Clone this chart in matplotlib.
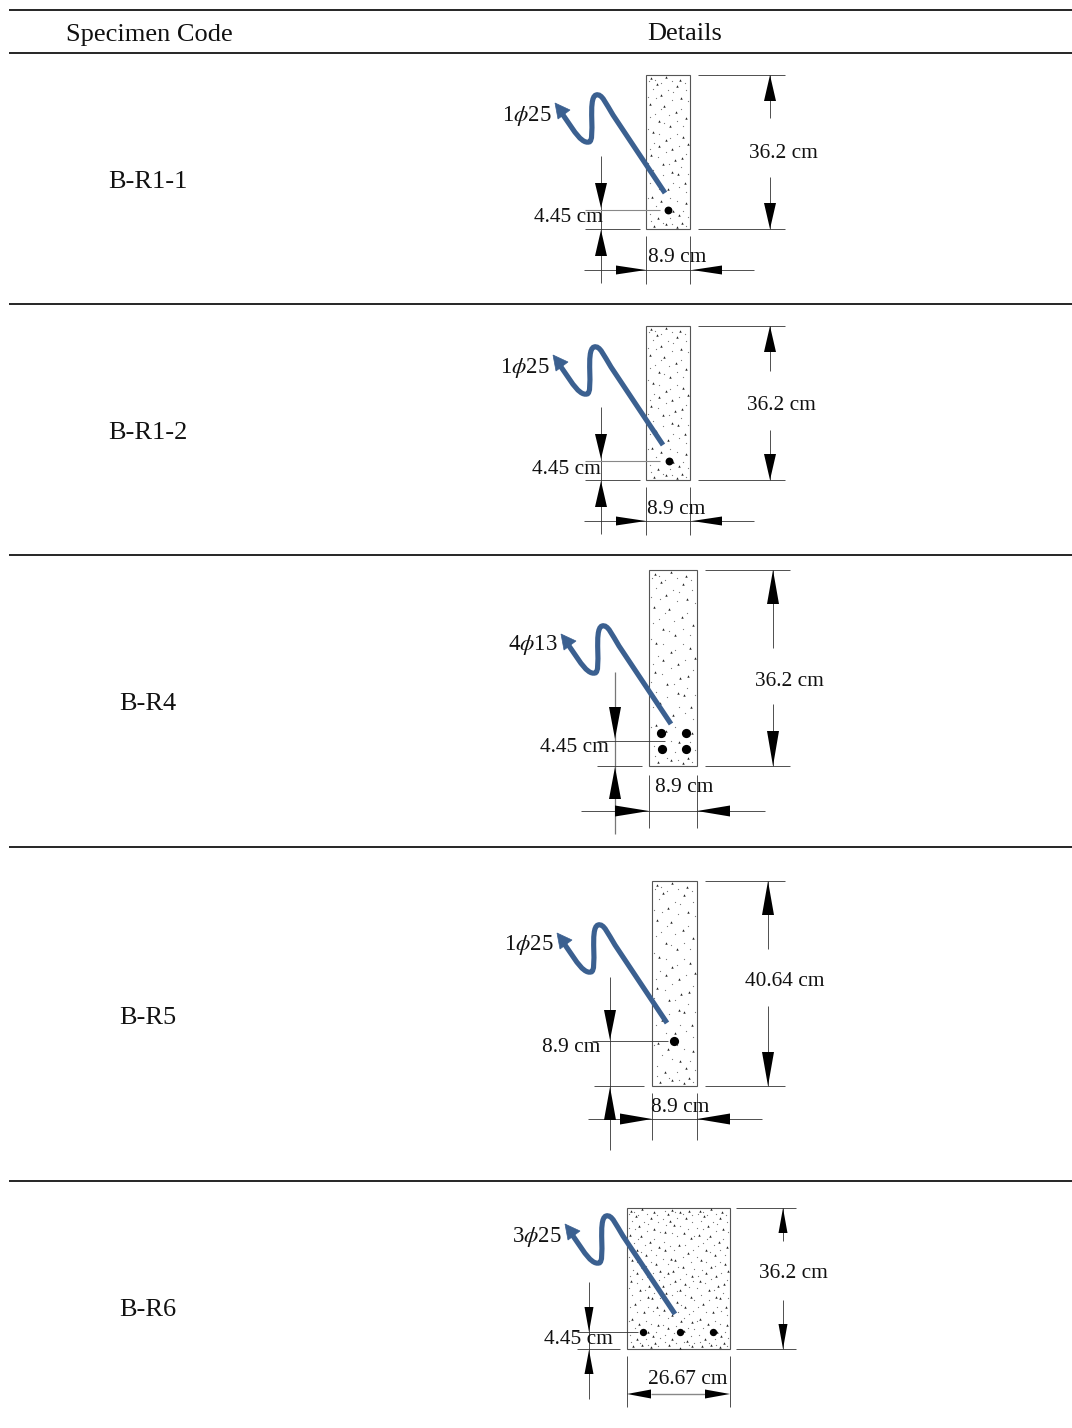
import matplotlib
matplotlib.use("Agg")
import matplotlib.pyplot as plt
from matplotlib.path import Path
from matplotlib.patches import PathPatch, Polygon, Rectangle

# table contents
headers = ["Specimen Code", "Details"]
specimens = ["B-R1-1", "B-R1-2", "B-R4", "B-R5", "B-R6"]
rebar_labels = ["1$\\phi$25", "1$\\phi$25", "4$\\phi$13", "1$\\phi$25", "3$\\phi$25"]
height_labels = ["36.2 cm", "36.2 cm", "36.2 cm", "40.64 cm", "36.2 cm"]
cover_labels = ["4.45 cm", "4.45 cm", "4.45 cm", "8.9 cm", "4.45 cm"]
width_labels = ["8.9 cm", "8.9 cm", "8.9 cm", "8.9 cm", "26.67 cm"]

# layout, in pixels of the page
rules = [10, 53, 304, 555, 847, 1181]
label_y = [179, 430, 701, 1015, 1307]

# aggregate specks, as fractions of a section of 44 x 154 px
specks = [(.12, .02), (.45, .01), (.78, .03), (.25, .06), (.7, .07), (.35, .13), (.8, .15),
          (.1, .19), (.42, .2), (.68, .24), (.92, .28), (.3, .3), (.55, .33), (.15, .37),
          (.45, .42), (.85, .4), (.95, .45), (.3, .46), (.6, .48), (.12, .52), (.65, .55),
          (.82, .54), (.38, .58), (.6, .63), (.72, .64), (.22, .68), (.88, .7), (.5, .74),
          (.14, .79), (.35, .82), (.9, .83), (.62, .88), (.75, .91), (.28, .93), (.82, .96),
          (.45, .97), (.18, .98), (.7, .985)]
fine = [(.06, .04), (.2, .03), (.33, .05), (.58, .04), (.88, .05), (.15, .09), (.5, .1), (.62, .11),
        (.9, .1), (.05, .14), (.22, .15), (.58, .16), (.95, .17), (.33, .22), (.52, .26), (.8, .22),
        (.08, .27), (.2, .25), (.7, .3), (.42, .31), (.85, .33), (.05, .35), (.3, .38), (.7, .38),
        (.55, .41), (.18, .44), (.75, .46), (.08, .48), (.45, .5), (.92, .51), (.28, .53), (.05, .57),
        (.52, .58), (.8, .6), (.15, .62), (.38, .65), (.95, .64), (.08, .7), (.62, .7), (.75, .73),
        (.3, .74), (.92, .76), (.05, .8), (.55, .8), (.7, .82), (.22, .85), (.45, .87), (.85, .88),
        (.1, .9), (.95, .92), (.55, .93), (.12, .95), (.38, .96), (.6, .97), (.9, .98)]

plt.rcParams["font.family"] = ["Liberation Serif", "DejaVu Serif"]
plt.rcParams["mathtext.fontset"] = "stix"

fig = plt.figure(figsize=(10.72, 14.28), dpi=100)
ax = fig.add_axes([0, 0, 1, 1])
ax.set_xlim(0, 1072)
ax.set_ylim(1428, 0)
ax.axis("off")

BLUE = "#3b6090"
LINE = "#333333"


def thin(x, y, lw=0.6, color=LINE):
    ax.plot(x, y, color=color, lw=lw, solid_capstyle="butt", zorder=2)


def arrow(tip, base, half):
    # filled dimension arrow, tip and base on one axis
    if tip[0] == base[0]:
        pts = [tip, (base[0] - half, base[1]), (base[0] + half, base[1])]
    else:
        pts = [tip, (base[0], base[1] - half), (base[0], base[1] + half)]
    ax.add_patch(Polygon(pts, closed=True, fc="black", ec="none", zorder=4))


def bar_arrow(x, y):
    # the bent leader from the bars out to the rebar label
    verts = [(0, 0), (-52, -78),
             (-59, -89), (-63, -100), (-69, -98),
             (-78, -95), (-69, -52), (-76, -51),
             (-80, -50), (-85, -53), (-93, -65),
             (-104, -81)]
    codes = [Path.MOVETO, Path.LINETO, Path.CURVE4, Path.CURVE4, Path.CURVE4,
             Path.CURVE4, Path.CURVE4, Path.CURVE4,
             Path.CURVE4, Path.CURVE4, Path.CURVE4, Path.LINETO]
    path = Path([(x + a, y + b) for a, b in verts], codes)
    ax.add_patch(PathPatch(path, fc="none", ec=BLUE, lw=3.7, capstyle="butt", zorder=5))
    head = [(-110, -90), (-95, -83), (-107, -74)]
    ax.add_patch(Polygon([(x + a, y + b) for a, b in head], closed=True, fc=BLUE, ec=BLUE,
                         lw=0.5, zorder=5))


def section(x0, x1, y0, y1, nx=1):
    ax.add_patch(Rectangle((x0, y0), x1 - x0, y1 - y0, fc="white", ec="#555555", lw=0.8, zorder=1))
    w = (x1 - x0) / nx
    for i in range(nx):
        sx = [x0 + (i + (a if i % 2 == 0 else 1 - a)) * w for a, b in specks]
        sy = [y0 + (b if i % 2 == 0 else 1 - b) * (y1 - y0) for a, b in specks]
        ax.scatter(sx, sy, s=3.0, marker="^", color="#222222", linewidths=0, zorder=2)
        fx = [x0 + (i + (a if i % 2 == 0 else 1 - a)) * w for a, b in fine]
        fy = [y0 + (b if i % 2 == 0 else 1 - b) * (y1 - y0) for a, b in fine]
        ax.scatter(fx, fy, s=0.8, color="#777777", linewidths=0, zorder=2)


def txt(x, y, s, size=15.4):
    ax.text(x, y + 4, s, ha="center", va="center", fontsize=size, color="#111111", zorder=6)


# table rules and first column
for y in rules:
    thin([9, 1072], [y, y], lw=1.2, color="black")
txt(149, 31, headers[0], 19)
txt(685, 30, headers[1], 19)
for y, name in zip(label_y, specimens):
    txt(148, y - 1, name, 19)

# B-R1-1
section(646, 690, 75, 229)
thin([698, 785], [75, 75]); thin([698, 785], [229, 229])
thin([770, 770], [75, 118]); thin([770, 770], [177, 229])
arrow((770, 75), (770, 101), 6); arrow((770, 229), (770, 203), 6)
thin([601, 601], [156, 283])
arrow((601, 208), (601, 183), 6); arrow((601, 230), (601, 256), 6)
thin([585, 660], [210, 210], color="#888888", lw=0.8); thin([585, 640], [229, 229])
thin([646, 646], [236, 284]); thin([690, 690], [236, 284]); thin([584, 754], [270, 270])
arrow((646, 270), (616, 270), 4.5); arrow((692, 270), (722, 270), 4.5)
ax.scatter([668], [210], s=32, color="black", linewidths=0, zorder=4)
bar_arrow(665, 193)
txt(527, 112, rebar_labels[0], 16.5)
txt(783, 149, height_labels[0]); txt(568, 214, cover_labels[0]); txt(677, 254, width_labels[0])

# B-R1-2
section(646, 690, 326, 480)
thin([698, 785], [326, 326]); thin([698, 785], [480, 480])
thin([770, 770], [326, 371]); thin([770, 770], [430, 480])
arrow((770, 326), (770, 352), 6); arrow((770, 480), (770, 454), 6)
thin([601, 601], [407, 534])
arrow((601, 459), (601, 434), 6); arrow((601, 481), (601, 507), 6)
thin([585, 660], [461, 461], color="#888888", lw=0.8); thin([585, 640], [480, 480])
thin([646, 646], [487, 535]); thin([690, 690], [487, 535]); thin([584, 754], [521, 521])
arrow((646, 521), (616, 521), 4.5); arrow((692, 521), (722, 521), 4.5)
ax.scatter([669], [461], s=32, color="black", linewidths=0, zorder=4)
bar_arrow(663, 445)
txt(525, 364, rebar_labels[1], 16.5)
txt(781, 401, height_labels[1]); txt(566, 466, cover_labels[1]); txt(676, 506, width_labels[1])

# B-R4
section(649, 697, 570, 766)
thin([705, 790], [570, 570]); thin([705, 790], [766, 766])
thin([773, 773], [570, 648]); thin([773, 773], [704, 766])
arrow((773, 570), (773, 604), 6); arrow((773, 766), (773, 731), 6)
thin([615, 615], [672, 834], color="#777777", lw=0.9)
arrow((615, 739), (615, 707), 6); arrow((615, 767), (615, 799), 6)
thin([597, 665], [741, 741]); thin([597, 642], [766, 766])
thin([649, 649], [775, 828]); thin([697, 697], [775, 828]); thin([581, 765], [811, 811])
arrow((649, 811), (615, 811), 5.5); arrow((697, 811), (730, 811), 5.5)
ax.scatter([661, 686, 662, 686], [733, 733, 749, 749], s=44, color="black", linewidths=0, zorder=4)
bar_arrow(671, 724)
txt(533, 641, rebar_labels[2], 16.5)
txt(789, 678, height_labels[2]); txt(574, 744, cover_labels[2]); txt(684, 784, width_labels[2])

# B-R5
section(652, 697, 881, 1086)
thin([705, 785], [881, 881]); thin([705, 785], [1086, 1086])
thin([768, 768], [881, 949]); thin([768, 768], [1006, 1086])
arrow((768, 881), (768, 915), 6); arrow((768, 1086), (768, 1052), 6)
thin([610, 610], [977, 1150])
arrow((610, 1040), (610, 1010), 6); arrow((610, 1087), (610, 1120), 6)
thin([592, 668], [1041, 1041]); thin([594, 644], [1086, 1086])
thin([652, 652], [1093, 1140]); thin([697, 697], [1093, 1140]); thin([588, 762], [1119, 1119])
arrow((652, 1119), (620, 1119), 5.5); arrow((697, 1119), (730, 1119), 5.5)
ax.scatter([674], [1041], s=44, color="black", linewidths=0, zorder=4)
bar_arrow(667, 1023)
txt(529, 941, rebar_labels[3], 16.5)
txt(785, 978, height_labels[3]); txt(571, 1044, cover_labels[3]); txt(680, 1103, width_labels[3])

# B-R6
section(627, 730, 1208, 1349, nx=3)
thin([736, 796], [1208, 1208]); thin([736, 796], [1349, 1349])
thin([783, 783], [1208, 1241]); thin([783, 783], [1300, 1349])
arrow((783, 1208), (783, 1233), 4.5); arrow((783, 1349), (783, 1324), 4.5)
thin([589, 589], [1282, 1399])
arrow((589, 1332), (589, 1307), 4.5); arrow((589, 1350), (589, 1374), 4.5)
thin([577, 638], [1332, 1332]); thin([577, 620], [1349, 1349])
thin([627, 627], [1356, 1407]); thin([730, 730], [1356, 1407]); thin([651, 705], [1394, 1394], color="#888888", lw=1.0)
arrow((627, 1394), (651, 1394), 4.5); arrow((730, 1394), (705, 1394), 4.5)
ax.scatter([643, 680, 713], [1332, 1332, 1332], s=28, color="black", linewidths=0, zorder=4)
bar_arrow(675, 1314)
txt(537, 1233, rebar_labels[4], 16.5)
txt(793, 1270, height_labels[4]); txt(578, 1336, cover_labels[4]); txt(688, 1376, width_labels[4])

fig.savefig("out.png", dpi=100)
